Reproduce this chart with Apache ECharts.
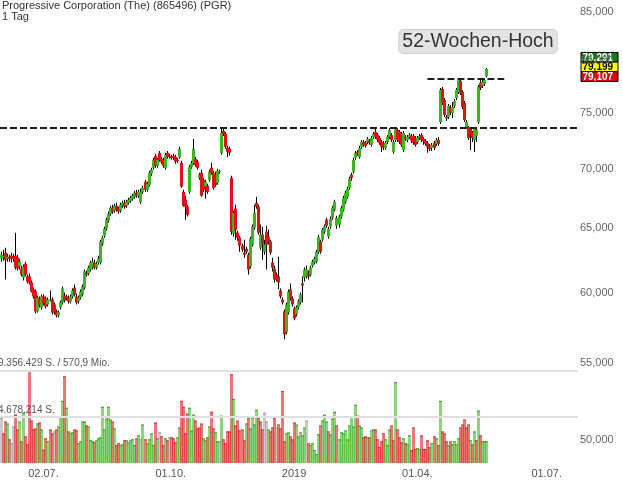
<!DOCTYPE html>
<html>
<head>
<meta charset="utf-8">
<script src="https://cdn.jsdelivr.net/npm/echarts@6/dist/echarts.min.js"></script>
<style>
  html, body { margin: 0; padding: 0; background: #fff; }
  #chart { width: 623px; height: 483px; }
</style>
</head>
<body>
<div id="chart"></div>
<script>
// Progressive Corp. (PGR), daily candles with volume, Jun 2018 - May 2019

const titleLine1 = 'Progressive Corporation (The) (865496) (PGR)';
const titleLine2 = '1 Tag';
const highLabel = '52-Wochen-Hoch';

// first session and exchange closures inside the data range
const firstSession = '2018-06-01';
const closedDays = ['2018-07-04', '2018-09-03', '2018-11-22', '2018-11-23', '2018-12-05',
  '2018-12-24', '2018-12-25', '2019-01-01', '2019-01-21', '2019-02-18', '2019-04-19'];
const slotCount = 286;

// daily candles: [open, close, low, high]
const candles = [
  [62.60,62.91,62.37,63.14],[62.68,62.83,62.44,63.30],[63.07,62.52,61.00,63.46],[62.60,62.75,62.37,62.99],
  [62.75,62.60,62.37,62.91],[62.83,62.60,62.29,63.07],[62.75,62.60,62.37,62.99],[62.83,61.91,61.76,64.65],
  [62.68,61.84,61.68,62.91],[61.99,62.37,61.76,62.60],[61.84,61.38,61.23,62.06],[61.15,61.99,60.93,62.14],
  [62.22,61.38,61.23,62.37],[61.23,60.85,60.70,61.38],[61.23,60.78,60.62,61.46],[60.78,60.10,60.03,60.93],
  [60.25,59.73,59.58,60.40],[60.10,58.64,58.49,60.25],[58.64,59.66,58.56,59.80],[59.58,59.07,58.93,59.73],
  [58.93,59.73,58.78,59.88],[59.73,59.22,59.07,59.88],[59.58,59.00,58.85,59.73],[59.14,59.51,59.00,59.66],
  [59.51,59.44,59.36,60.18],[59.51,58.56,58.42,59.66],[59.14,58.56,58.42,59.29],[58.64,58.35,58.20,58.78],
  [58.35,58.56,58.20,58.71],[58.93,59.29,58.78,59.44],[59.29,60.33,59.14,60.48],[59.80,59.44,59.29,60.03],
  [59.73,59.58,59.44,59.88],[59.66,59.36,59.22,59.80],[59.36,59.73,59.22,59.88],[59.73,60.18,59.58,60.33],
  [60.40,59.88,59.73,60.62],[59.73,59.29,59.14,59.95],[59.36,59.66,59.22,59.80],[59.66,60.10,59.51,60.25],
  [59.88,60.48,59.73,60.62],[60.40,61.61,60.25,61.76],[61.53,61.38,61.23,61.68],[61.46,61.91,61.30,62.06],
  [61.76,62.29,61.61,62.44],[61.91,62.37,61.76,62.68],[62.29,61.91,61.76,62.52],[61.91,62.22,61.76,62.37],
  [62.29,62.60,62.14,62.83],[62.29,63.93,62.14,64.09],[63.77,64.25,63.62,64.41],[64.41,64.97,64.25,65.13],
  [64.97,65.70,64.81,65.86],[65.62,66.19,65.46,66.36],[66.19,66.68,66.03,66.85],[66.68,66.36,66.19,66.93],
  [66.44,66.85,66.27,67.01],[66.85,66.52,66.36,67.09],[66.60,66.36,66.19,66.77],[66.44,66.93,66.27,67.09],
  [66.85,67.09,66.68,67.26],[67.09,66.77,66.60,67.34],[66.85,67.17,66.68,67.34],[67.09,67.34,66.93,67.51],
  [67.26,67.51,67.09,67.68],[67.42,67.68,67.26,67.84],[67.59,67.93,67.42,68.10],[67.93,67.68,67.51,68.18],
  [67.68,68.01,67.51,68.18],[67.17,68.01,67.01,68.27],[68.01,68.35,67.84,68.52],[68.86,68.18,68.01,69.03],
  [68.18,68.69,68.01,68.86],[68.60,69.63,68.44,69.80],[69.55,69.89,69.37,70.06],[70.06,70.76,69.89,70.94],
  [71.11,70.24,70.06,71.29],[70.24,70.76,70.06,70.94],[71.38,70.76,70.59,71.55],[70.85,70.59,70.41,71.02],
  [70.76,70.24,70.06,70.94],[70.06,71.20,69.89,71.38],[71.38,71.02,70.85,71.55],[71.11,71.02,70.85,71.29],
  [71.02,71.00,70.76,71.20],[71.11,70.94,70.76,71.29],[71.02,70.59,70.41,71.20],[70.76,70.67,70.50,70.94],
  [71.02,71.73,70.85,71.91],[70.50,68.44,68.35,70.67],[68.01,66.85,66.77,68.18],[67.34,66.77,65.70,67.68],
  [66.77,66.11,65.95,66.93],[68.01,70.15,67.84,70.32],[70.15,70.50,69.98,70.67],[70.50,71.73,70.32,72.62],
  [70.85,70.32,70.15,71.02],[70.59,70.06,69.89,70.76],[69.20,69.46,69.03,69.63],[69.63,67.68,67.59,69.89],
  [69.03,68.18,68.01,69.20],[68.44,68.86,67.42,69.03],[68.52,68.01,67.84,68.69],[69.03,69.72,68.86,69.89],
  [70.06,69.63,69.46,70.50],[69.63,68.35,68.18,69.80],[69.46,68.60,68.44,69.72],[68.77,69.80,68.60,69.98],
  [69.72,69.80,69.55,69.89],[71.38,73.16,71.20,73.59],[73.34,73.07,72.89,73.55],[73.07,71.91,71.73,73.25],
  [71.82,71.46,71.02,72.00],[71.73,71.38,71.11,71.91],[69.20,64.73,64.49,69.37],[64.57,66.27,64.33,66.44],
  [66.60,64.89,64.09,66.93],[64.65,64.25,64.01,64.81],[64.25,63.62,63.14,64.41],[63.62,63.30,63.14,63.77],
  [63.07,62.91,62.68,64.09],[63.38,63.14,62.99,63.54],[62.91,61.76,61.38,63.07],[61.99,64.17,61.84,64.33],
  [63.70,65.13,63.54,65.30],[65.05,66.27,64.89,66.93],[67.09,66.77,66.60,67.59],[66.77,64.65,64.49,66.93],
  [63.46,64.49,63.30,65.30],[64.49,63.70,62.52,65.13],[63.14,63.70,62.91,64.09],[64.73,63.70,61.76,65.21],
  [64.33,63.93,63.70,64.89],[63.93,63.07,62.91,64.09],[62.29,61.91,61.61,62.68],[61.84,61.00,60.78,62.06],
  [61.38,61.00,60.85,61.53],[61.23,60.78,60.25,62.75],[60.18,59.73,59.58,60.33],[59.51,59.29,59.14,59.66],
  [58.64,57.00,56.64,58.78],[57.14,59.14,57.00,59.29],[58.56,60.10,58.42,60.25],[60.25,59.58,59.44,60.70],
  [59.58,59.14,59.00,59.73],[58.85,58.13,57.99,59.00],[58.42,58.93,58.27,59.07],[58.93,59.36,58.78,59.51],
  [59.29,59.88,59.14,60.03],[60.70,60.55,59.29,61.23],[61.15,61.76,60.85,61.91],[61.23,61.76,61.08,62.06],
  [61.46,61.23,61.00,61.68],[61.38,61.91,61.23,62.06],[62.06,62.37,61.91,62.52],[62.29,62.60,62.14,62.75],
  [62.37,63.14,62.22,63.30],[63.14,64.33,62.99,64.49],[63.93,63.14,62.99,64.09],[64.09,64.89,63.93,65.05],
  [64.73,65.13,64.57,65.30],[65.70,65.21,65.05,65.86],[64.33,64.97,64.17,65.13],[65.13,65.78,64.97,65.95],
  [65.86,66.68,65.70,66.85],[66.52,67.17,66.36,67.34],[65.21,65.86,64.97,66.03],[65.30,65.95,65.05,66.11],
  [65.95,66.68,65.78,66.85],[66.52,67.51,66.36,67.68],[67.17,67.93,67.01,68.10],[67.59,68.27,67.42,68.44],
  [68.35,69.11,68.18,69.29],[69.46,69.20,68.94,69.63],[69.72,70.76,69.55,70.94],[70.94,71.38,70.76,71.55],
  [71.46,71.29,71.11,71.64],[71.02,71.82,70.85,72.00],[71.91,72.35,71.73,72.53],[72.35,72.09,71.91,72.53],
  [72.26,72.00,71.82,72.44],[72.35,72.62,72.17,72.80],[72.44,72.26,72.09,72.62],[72.09,72.71,71.91,72.89],
  [72.80,73.07,72.62,73.25],[73.25,72.80,72.62,73.59],[72.98,72.53,72.35,73.16],[72.71,72.26,72.09,72.89],
  [72.35,71.91,71.46,72.53],[72.26,71.82,71.64,72.44],[71.82,72.26,71.64,72.44],[72.35,72.80,72.17,72.98],
  [72.80,73.43,72.62,73.59],[72.98,72.53,72.35,73.16],[71.46,72.35,71.29,72.53],[72.53,73.50,72.35,73.59],
  [73.43,72.53,72.35,73.59],[73.25,72.35,72.17,73.43],[73.07,72.09,71.91,73.25],[71.64,73.16,71.46,73.34],
  [72.80,72.62,72.44,72.98],[72.53,72.80,72.35,72.98],[72.80,72.98,72.62,73.16],[72.89,72.44,72.26,73.07],
  [72.89,72.26,72.09,73.07],[72.71,72.09,71.91,72.89],[72.35,72.71,72.17,72.89],[72.71,72.89,72.53,73.07],
  [72.98,72.53,72.35,73.16],[72.62,72.44,72.09,72.80],[72.44,72.17,72.00,72.62],[72.26,71.91,71.38,72.44],
  [72.00,71.73,71.55,72.17],[71.82,72.09,71.55,72.26],[72.26,71.82,71.64,72.44],[72.17,72.53,72.00,72.71],
  [72.53,72.17,72.00,72.80],[74.16,77.16,73.98,77.36],[77.26,75.93,75.74,77.45],[76.21,74.81,74.62,76.40],
  [74.62,74.49,74.26,74.81],[74.62,75.65,74.44,75.84],[75.55,74.99,74.81,75.74],[74.99,75.55,74.53,76.02],
  [75.65,76.12,75.46,76.30],[76.40,77.16,76.21,77.36],[76.97,78.13,76.78,78.20],[78.03,76.87,76.68,78.29],
  [76.97,75.55,75.36,77.16],[75.93,74.35,74.16,76.12],[73.70,74.16,73.52,74.35],[73.70,72.71,72.53,73.80],
  [73.59,72.98,71.64,73.70],[73.16,72.71,72.35,73.34],[72.53,73.59,71.46,73.70],[72.89,73.43,72.35,73.61],
  [74.16,77.45,73.98,77.65],[77.84,77.36,77.16,78.25],[77.55,77.94,77.36,78.23],[77.74,78.13,77.55,78.28],
  [78.52,79.199,78.40,79.291]
];

// daily volume, million shares
const volumeMio = [
  4.6,3.0,4.2,4.0,2.4,2.0,3.7,4.9,3.4,4.2,2.2,5.1,2.7,1.9,9.356429,4.3,3.4,3.5,4.0,4.1,
  3.4,1.35,2.5,2.2,3.4,3.0,3.2,3.4,3.7,4.7,6.3,8.8,5.6,3.2,3.0,3.1,3.4,3.3,2.0,2.2,
  4.2,4.2,3.8,3.7,2.3,2.2,2.1,2.3,2.5,2.6,5.7,3.4,4.5,5.7,4.4,4.2,3.5,1.8,2.0,1.8,
  1.9,2.3,2.3,2.1,2.3,2.4,1.8,2.5,2.8,2.4,3.9,2.4,2.0,2.4,3.0,1.8,4.1,2.5,3.1,2.7,
  1.8,2.5,2.3,2.6,2.6,2.5,2.1,2.6,3.6,6.3,5.7,3.0,5.0,5.6,3.3,4.9,4.3,3.5,3.6,4.0,
  2.5,2.3,2.6,3.7,5.2,3.5,3.1,2.2,2.2,4.8,2.4,2.0,3.2,3.2,9.0,6.5,3.8,4.3,3.3,3.4,
  2.3,4.0,4.6,3.5,4.6,3.9,5.4,4.6,4.2,3.4,5.1,4.2,3.4,3.2,3.6,4.6,3.6,3.9,3.5,7.3,
  2.2,3.0,3.1,2.7,2.4,4.1,3.9,2.7,3.1,2.8,3.6,4.3,2.0,1.8,2.0,1.3,0.9,2.9,3.8,4.3,
  4.9,4.2,3.2,2.9,4.5,5.2,3.8,2.4,3.1,3.0,3.3,2.4,3.8,4.7,3.7,5.9,4.8,3.8,3.6,2.6,
  2.7,2.6,2.6,3.3,3.4,3.4,2.4,1.6,2.2,3.0,2.4,1.8,3.4,3.8,2.3,8.2,3.4,2.6,2.1,2.5,
  2.0,1.9,2.8,1.3,3.6,1.4,1.5,1.4,2.8,1.4,1.4,2.3,1.6,2.0,2.7,2.5,1.8,6.3,3.2,3.0,
  2.2,1.8,2.2,1.9,2.2,1.9,2.5,3.6,3.9,4.4,3.6,3.9,2.3,1.9,3.2,2.3,5.3,2.8,2.2,2.2,
  2.2
];

// horizontal levels and the price boxes at the right edge
const lowerLevel = 73.59;
const highLevel = 78.29;
const highLevelFrom = 211;
const highLevelTo = 249;
const quoteHigh = 79.291;
const quoteLast = 79.199;
const quoteLow = 79.107;
const priceTicks = [50, 55, 60, 65, 70, 75, 80, 85];
const maxVolumeTurnover = '570,9 Mio.';

const GREEN = '#3db51c';
const RED = '#e01212';
const FONT = '"Liberation Sans", Arial, sans-serif';

function buildSessions(n) {
  const out = [];
  const d = new Date(firstSession + 'T00:00:00Z');
  while (out.length < n) {
    const dow = d.getUTCDay();
    const s = d.toISOString().slice(0, 10);
    if (dow !== 0 && dow !== 6 && closedDays.indexOf(s) < 0) out.push(s);
    d.setUTCDate(d.getUTCDate() + 1);
  }
  return out;
}
const sessions = buildSessions(slotCount);

function isQuarterStart(i) {
  if (i === 0) return false;
  const m = sessions[i].slice(5, 7);
  return m !== sessions[i - 1].slice(5, 7) && ['01', '04', '07', '10'].indexOf(m) >= 0;
}
function dateLabel(s) {
  const m = s.slice(5, 7), d = s.slice(8, 10);
  return m === '01' ? s.slice(0, 4) : d + '.' + m + '.';
}
function germanInt(v) {
  return String(v).replace(/\B(?=(\d{3})+(?!\d))/g, '.');
}
function priceText(v) {
  return v.toFixed(3).replace('.', ',');
}

const volumes = volumeMio.map(v => Math.round(v * 1e6));
const maxVolume = Math.max.apply(null, volumes);

const candleData = candles.map((c, i) => [i, c[0], c[1], c[2], c[3]]);
const volumeData = volumes.map((v, i) => {
  let dir = 0;
  if (i > 0) dir = candles[i][1] > candles[i - 1][1] ? 1 : (candles[i][1] < candles[i - 1][1] ? -1 : 0);
  return [i, v, dir];
});

function renderCandle(params, api) {
  const i = api.value(0);
  const o = api.coord([i, api.value(1)]);
  const c = api.coord([i, api.value(2)]);
  const l = api.coord([i, api.value(3)]);
  const h = api.coord([i, api.value(4)]);
  const xc = Math.round(o[0]);
  const up = api.value(2) >= api.value(1);
  const top = Math.min(o[1], c[1]);
  const bot = Math.max(o[1], c[1]);
  return {
    type: 'group',
    children: [
      { type: 'rect', shape: { x: xc, y: h[1], width: 1, height: l[1] - h[1] }, style: { fill: '#000' } },
      { type: 'rect', shape: { x: xc - 1, y: top, width: 3, height: Math.max(1, bot - top) },
        style: { fill: up ? GREEN : RED } }
    ]
  };
}

function renderVolume(params, api) {
  const i = api.value(0);
  const p = api.coord([i, api.value(1)]);
  const b = api.coord([i, 0]);
  const xc = Math.round(p[0]);
  const dir = api.value(2);
  const fill = dir > 0 ? 'rgba(61,181,28,0.58)' : dir < 0 ? 'rgba(226,30,30,0.6)' : 'rgba(150,150,150,0.5)';
  const cap = dir > 0 ? 'rgba(40,120,20,0.7)' : dir < 0 ? 'rgba(150,20,20,0.6)' : 'rgba(110,110,110,0.6)';
  return {
    type: 'group',
    children: [
      { type: 'rect', shape: { x: xc - 1, y: p[1], width: 3, height: b[1] - p[1] }, style: { fill: fill } },
      { type: 'rect', shape: { x: xc - 1, y: p[1], width: 3, height: 1 }, style: { fill: cap } }
    ]
  };
}

const chart = echarts.init(document.getElementById('chart'), null, { renderer: 'canvas' });

chart.setOption({
  animation: false,
  backgroundColor: '#fff',
  grid: [
    { left: 0, right: 45, top: 0, bottom: 20 },
    { left: 0, right: 45, top: 370.7, bottom: 20 }
  ],
  xAxis: [
    { type: 'category', gridIndex: 0, data: sessions, show: false },
    { type: 'category', gridIndex: 1, data: sessions,
      axisLine: { show: false }, axisTick: { show: false }, splitLine: { show: false },
      axisLabel: {
        interval: (i) => isQuarterStart(i),
        formatter: (v) => dateLabel(v),
        color: '#555', fontSize: 11, fontFamily: FONT, margin: 5
      } }
  ],
  yAxis: [
    { type: 'log', gridIndex: 0, position: 'right', min: 48.59, max: 86.27,
      axisLine: { show: false }, axisTick: { show: false }, splitLine: { show: false },
      axisLabel: {
        customValues: priceTicks,
        formatter: (v) => priceText(v),
        color: '#666', fontSize: 11, fontFamily: FONT, margin: 2, align: 'left'
      } },
    { type: 'value', gridIndex: 1, min: 0, max: maxVolume, show: false, splitLine: { show: false } }
  ],
  series: [
    {
      type: 'custom', name: 'Volumen', xAxisIndex: 1, yAxisIndex: 1,
      data: volumeData, encode: { x: 0, y: 1 }, renderItem: renderVolume, z: 2,
      markLine: {
        silent: true, symbol: 'none', animation: false,
        lineStyle: { color: '#e0e0e0', width: 2, type: 'solid' },
        label: { position: 'insideStartTop', color: '#555', fontSize: 10, fontFamily: FONT, distance: [-2, 2] },
        data: [
          { yAxis: maxVolume, label: { formatter: germanInt(maxVolume) + ' S. / ' + maxVolumeTurnover } },
          { yAxis: Math.floor(maxVolume / 2), label: { formatter: germanInt(Math.floor(maxVolume / 2)) + ' S.' } }
        ]
      }
    },
    {
      type: 'custom', name: 'PGR', xAxisIndex: 0, yAxisIndex: 0,
      data: candleData, encode: { x: 0, y: [1, 2, 3, 4] }, renderItem: renderCandle, z: 3
    },
    {
      type: 'line', name: 'Marken', xAxisIndex: 0, yAxisIndex: 0, data: [], z: 4,
      markLine: {
        silent: true, symbol: 'none', animation: false,
        label: { show: false },
        lineStyle: { color: '#1e1e1e', width: 2, type: [7, 3] },
        data: [
          { yAxis: lowerLevel },
          [ { coord: [highLevelFrom, highLevel] }, { coord: [highLevelTo, highLevel] } ]
        ]
      }
    }
  ]
});

// titles, level caption and the quote boxes beside the price axis
const yLast = chart.convertToPixel({ yAxisIndex: 0 }, quoteLast);
const boxH = 9.7;
const boxX = 581;
const boxW = 37;
const midTop = yLast - 2 - boxH / 2;
function quoteBox(id, y, value, bg, fg) {
  return {
    type: 'group', id: id, z: 100,
    children: [
      { type: 'rect', shape: { x: boxX, y: y, width: boxW, height: boxH },
        style: { fill: bg, stroke: '#000', lineWidth: 1 } },
      { type: 'text', x: boxX + 1.5, y: y + boxH / 2 + 0.5,
        style: { text: priceText(value), fill: fg, font: 'bold 10px ' + FONT, textVerticalAlign: 'middle' } }
    ]
  };
}

chart.setOption({
  graphic: [
    { type: 'text', id: 't1', left: 2, top: 0, z: 100,
      style: { text: titleLine1, fill: '#333', font: '11px ' + FONT } },
    { type: 'text', id: 't2', left: 2, top: 11, z: 100,
      style: { text: titleLine2, fill: '#333', font: '11px ' + FONT } },
    { type: 'text', id: 'hoch', x: 478, y: 41.5, z: 100,
      style: { text: highLabel, fill: '#333', font: '19.5px ' + FONT,
        textAlign: 'center', textVerticalAlign: 'middle',
        backgroundColor: '#e4e4e4', borderColor: '#cfcfcf', borderWidth: 1, borderRadius: 4,
        padding: [2, 3, 1, 3] } },
    quoteBox('qh', midTop - boxH, quoteHigh, '#137a13', '#fff'),
    quoteBox('ql', midTop, quoteLast, '#ffff00', '#000'),
    quoteBox('qb', midTop + boxH, quoteLow, '#dd0a0a', '#fff')
  ]
});
</script>
</body>
</html>
